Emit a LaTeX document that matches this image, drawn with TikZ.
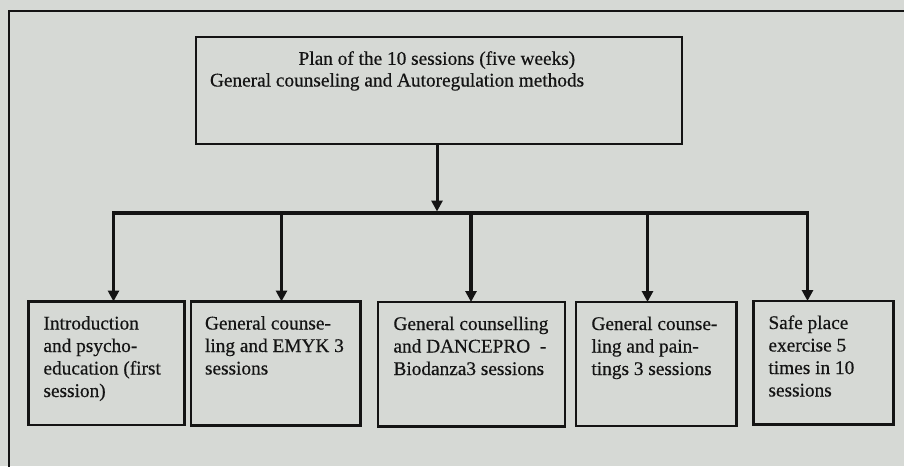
\documentclass[tikz,border=0pt]{standalone}
\usepackage{fontspec}
\setmainfont{Liberation Serif}[FakeBold=0.5]
\usetikzlibrary{arrows.meta,calc}
\definecolor{paper}{RGB}{214,217,213}
\definecolor{ink}{RGB}{20,20,20}
\begin{document}
\begin{tikzpicture}[x=1pt,y=-1pt,
  box/.style={draw=ink,line width=2.2pt,anchor=north west,inner sep=0pt,outer sep=0pt},
  txt/.style={anchor=base west,inner sep=0pt,outer sep=0pt,text=ink},
  tip/.style={-{Triangle[width=11pt,length=11pt]}},
  conn/.style={draw=ink,line width=3.4pt,tip},
]
\fill[paper] (0,0) rectangle (904,466);
\useasboundingbox (0,0) rectangle (904,466);
% outer frame (continues beyond the picture)
\draw[ink,line width=2pt] (9,472) -- (9,11) -- (912,11);

% top box
\node[box,minimum width=486pt,minimum height=107pt] (top) at (196,37) {};
\node[txt] (ttext) at (210,64.8) {\parbox[t]{440pt}{\fontsize{19.3}{21.7}\selectfont
  \hspace*{88.6pt}Plan of the 10 sessions (five weeks)\\
  General counseling and Autoregulation methods}};

% lower boxes
\node[box,minimum width=156pt,minimum height=123.5pt] (b1) at (28.5,301.5) {};
\node[box,minimum width=169.5pt,minimum height=124pt] (b2) at (191,301.5) {};
\node[box,minimum width=187pt,minimum height=124.5pt] (b3) at (378,302) {};
\node[box,minimum width=160.5pt,minimum height=124pt] (b4) at (576,302) {};
\node[box,minimum width=140pt,minimum height=123.5pt] (b5) at (753.5,301) {};

\newcommand{\boxtext}[1]{\parbox[t]{200pt}{\fontsize{19.3}{22.5}\selectfont #1}}
\node[txt] (t1) at ($(b1.north west)+(15,28)$) {\boxtext{Introduction\\and psycho-\\education (first\\session)}};
\node[txt] (t2) at ($(b2.north west)+(14,28)$) {\boxtext{General counse-\\ling and EMYK 3\\sessions}};
\node[txt] (t3) at ($(b3.north west)+(15.5,28)$) {\boxtext{General counselling\\and DANCEPRO\ \ -\\Biodanza3 sessions}};
\node[txt] (t4) at ($(b4.north west)+(15.5,28)$) {\boxtext{General counse-\\ling and pain-\\tings 3 sessions}};
\node[txt] (t5) at ($(b5.north west)+(15,28)$) {\boxtext{Safe place\\exercise 5\\times in 10\\sessions}};

% connectors
\coordinate (j) at (437,213);
\coordinate (jt) at (437,211.5);
\coordinate (d1) at (113.5,213);
\coordinate (d2) at (281.5,213);
\coordinate (d3) at (471,213);
\coordinate (d4) at (647.5,213);
\coordinate (d5) at (807.5,213);

\draw[conn,line width=3pt] (top.south -| j) -- (jt);
\draw[ink,line width=3.6pt,{Triangle[width=11pt,length=11pt]}-{Triangle[width=11pt,length=11pt]}]
  (b1.north -| d1) -- (d1) -- (d5) -- (b5.north -| d5);
\draw[conn] (d2) -- (d2 |- b2.north);
\draw[conn] (d3) -- (d3 |- b3.north);
\draw[conn] (d4) -- (d4 |- b4.north);
\end{tikzpicture}
\end{document}
